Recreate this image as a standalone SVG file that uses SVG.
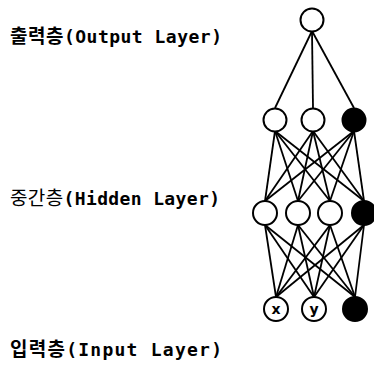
<svg xmlns="http://www.w3.org/2000/svg" width="374" height="365" viewBox="0 0 374 365">
<style>
.n{fill:#fff;stroke:#000;stroke-width:2}
.b{fill:#000;stroke:#000;stroke-width:2}
.c line{stroke:#000;stroke-width:1.8}
.t{font-family:"DejaVu Sans Mono","Noto Sans CJK KR",monospace;font-size:18px;fill:#000}
.l{font-weight:bold}
.k{font-family:"Noto Sans CJK KR",sans-serif;font-size:19px}
.v{font-family:"DejaVu Sans","Noto Sans",sans-serif;font-size:14px;font-weight:bold;fill:#000}
</style>
<rect width="374" height="365" fill="#fff"/>
<g class="c" id="connectors">
<line x1="312" y1="31" x2="275" y2="108"/>
<line x1="312" y1="31" x2="313" y2="108"/>
<line x1="312" y1="31" x2="354" y2="108"/>

<line x1="275" y1="131" x2="265" y2="201"/>
<line x1="275" y1="131" x2="298" y2="201"/>
<line x1="275" y1="131" x2="330" y2="201"/>
<line x1="275" y1="131" x2="364" y2="201"/>
<line x1="313" y1="131" x2="265" y2="201"/>
<line x1="313" y1="131" x2="298" y2="201"/>
<line x1="313" y1="131" x2="330" y2="201"/>
<line x1="313" y1="131" x2="364" y2="201"/>
<line x1="354" y1="131" x2="265" y2="201"/>
<line x1="354" y1="131" x2="298" y2="201"/>
<line x1="354" y1="131" x2="330" y2="201"/>
<line x1="354" y1="131" x2="364" y2="201"/>

<line x1="265" y1="225" x2="276" y2="297"/>
<line x1="265" y1="225" x2="314" y2="297"/>
<line x1="265" y1="225" x2="355" y2="297"/>
<line x1="298" y1="225" x2="276" y2="297"/>
<line x1="298" y1="225" x2="314" y2="297"/>
<line x1="298" y1="225" x2="355" y2="297"/>
<line x1="330" y1="225" x2="276" y2="297"/>
<line x1="330" y1="225" x2="314" y2="297"/>
<line x1="330" y1="225" x2="355" y2="297"/>
<line x1="364" y1="225" x2="276" y2="297"/>
<line x1="364" y1="225" x2="314" y2="297"/>
<line x1="364" y1="225" x2="355" y2="297"/>
</g>
<g id="out1"><circle class="n" cx="312" cy="20" r="11.5"/></g>
<g id="h2a"><circle class="n" cx="275" cy="120" r="11.5"/></g>
<g id="h2b"><circle class="n" cx="313" cy="120" r="11.5"/></g>
<g id="h2bias"><circle class="b" cx="354" cy="120" r="11.5"/></g>
<g id="h1a"><circle class="n" cx="265" cy="213" r="12"/></g>
<g id="h1b"><circle class="n" cx="298" cy="213" r="12"/></g>
<g id="h1c"><circle class="n" cx="330" cy="213" r="12"/></g>
<g id="h1bias"><circle class="b" cx="364" cy="213" r="12"/></g>
<g id="inx"><circle class="n" cx="276" cy="309" r="12"/><text class="v" x="276" y="314" text-anchor="middle">x</text></g>
<g id="iny"><circle class="n" cx="314" cy="309" r="12"/><text class="v" x="314" y="314" text-anchor="middle">y</text></g>
<g id="inbias"><circle class="b" cx="355" cy="309" r="12"/></g>
<g id="labels">
<text class="t l" x="10" y="43" textLength="212"><tspan class="k">출력층</tspan>(Output Layer)</text>
<text class="t l" x="10" y="205" textLength="210"><tspan class="k" font-weight="normal">중간층</tspan>(Hidden Layer)</text>
<text class="t l" x="10" y="356" textLength="212"><tspan class="k">입력층</tspan>(Input Layer)</text>
</g>
</svg>
